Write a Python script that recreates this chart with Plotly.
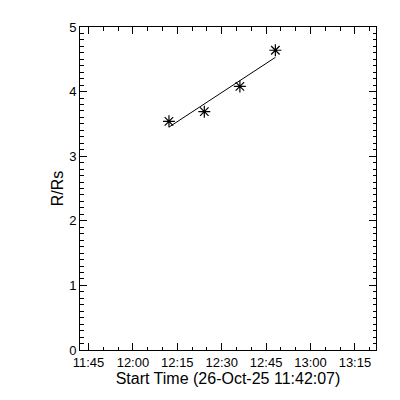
import plotly.graph_objects as go

obs_times = ["2025-10-26 12:12:10", "2025-10-26 12:24:07", "2025-10-26 12:36:08", "2025-10-26 12:48:07"]
obs_r = [3.54, 3.69, 4.08, 4.64]
fit_r = [3.45, 3.81, 4.17, 4.53]

x_start = "2025-10-26 11:42:07"
x_end = "2025-10-26 13:22:07"

fig = go.Figure()
fig.add_trace(go.Scatter(x=obs_times, y=fit_r, mode="lines",
                         line=dict(color="black", width=1), showlegend=False))
fig.add_trace(go.Scatter(x=obs_times, y=obs_r, mode="markers",
                         marker=dict(symbol="asterisk-open", size=10, color="black",
                                     line=dict(color="black", width=1.2)),
                         showlegend=False))

font = dict(family="Liberation Sans, DejaVu Sans, sans-serif", size=13, color="black")
fig.update_layout(
    width=400, height=400,
    margin=dict(l=72, r=32, t=16, b=58),
    paper_bgcolor="white", plot_bgcolor="white",
    font=font,
    xaxis=dict(type="date", range=[x_start, x_end],
               tick0="2025-10-26 11:45:00", dtick=15 * 60 * 1000,
               tickformat="%H:%M", ticks="inside", ticklen=7, tickwidth=1,
               tickcolor="black", showline=True, linecolor="black", linewidth=1,
               mirror="allticks", showgrid=False, zeroline=False,
               minor=dict(dtick=5 * 60 * 1000, ticks="inside", ticklen=3.5,
                          tickcolor="black", showgrid=False),
               title=dict(text="Start Time (26-Oct-25 11:42:07)", standoff=2),
               tickfont=font),
    yaxis=dict(range=[0, 5], dtick=1, tick0=0, ticks="inside", ticklen=7,
               tickwidth=1, tickcolor="black", showline=True, linecolor="black",
               linewidth=1, mirror="allticks", showgrid=False, zeroline=False,
               minor=dict(dtick=0.1, ticks="inside", ticklen=3.5,
                          tickcolor="black", showgrid=False),
               title=dict(text="R/Rs", standoff=1), tickfont=font),
)
fig.write_html("out.html")
